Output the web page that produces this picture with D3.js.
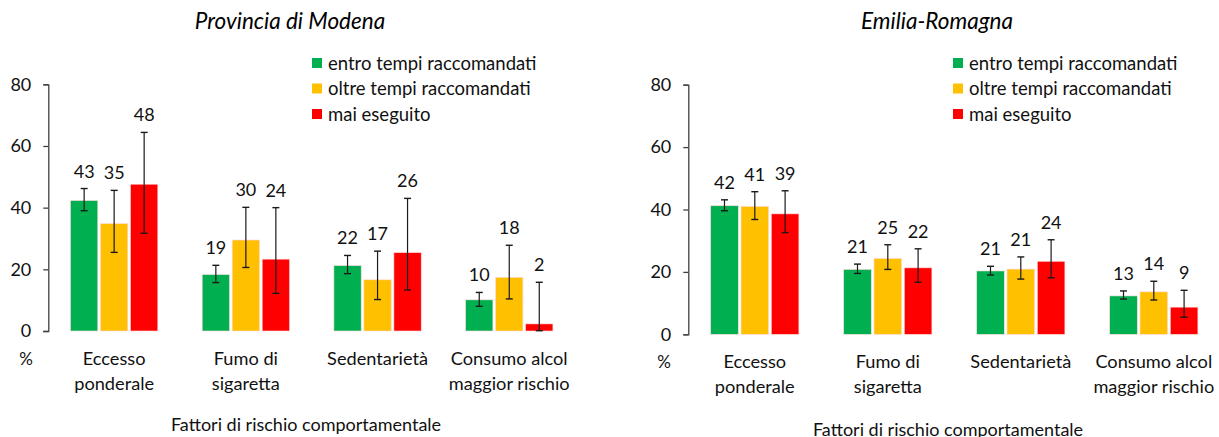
<!DOCTYPE html>
<html><head><meta charset="utf-8">
<script src="https://cdn.jsdelivr.net/npm/d3@7"></script>
<style>
body{margin:0;background:#fff;}
svg{display:block;font-family:Lato,"Open Sans",sans-serif;}
</style></head>
<body><svg id="c" width="1219" height="437"></svg>
<script>
const categories = ["Eccesso ponderale","Fumo di sigaretta","Sedentarietà","Consumo alcol maggior rischio"];
const categoryLines = [["Eccesso","ponderale"],["Fumo di","sigaretta"],["Sedentarietà"],["Consumo alcol","maggior rischio"]];
const seriesNames = ["entro tempi raccomandati","oltre tempi raccomandati","mai eseguito"];
const seriesColors = ["#00B050","#FFC000","#FF0000"];
const yTicks = [0,20,40,60,80];

// Provincia di Modena
const modenaEntro = [42.3,18.3,21.2,10.1];
const modenaOltre = [34.8,29.5,16.6,17.4];
const modenaMai   = [47.6,23.3,25.4,2.3];
const modenaEntroLow = [39.0,15.7,18.6,8.0],  modenaEntroHigh = [46.2,21.3,24.5,12.5];
const modenaOltreLow = [25.5,20.6,10.2,10.4], modenaOltreHigh = [45.6,40.1,25.9,27.8];
const modenaMaiLow   = [31.7,12.2,13.3,0.1],  modenaMaiHigh   = [64.4,40.0,43.0,15.8];
const modenaEntroLabels = [43,19,22,10];
const modenaOltreLabels = [35,30,17,18];
const modenaMaiLabels   = [48,24,26,2];

// Emilia-Romagna
const erEntro = [41.2,20.8,20.3,12.3];
const erOltre = [41.0,24.3,20.9,13.6];
const erMai   = [38.6,21.3,23.4,8.7];
const erEntroLow = [39.6,19.5,19.0,11.3], erEntroHigh = [43.1,22.5,21.8,13.9];
const erOltreLow = [36.8,20.8,17.7,11.0], erOltreHigh = [45.7,28.7,24.8,17.0];
const erMaiLow   = [32.6,16.7,18.1,5.5],  erMaiHigh   = [46.0,27.4,30.3,14.1];
const erEntroLabels = [42,21,21,13];
const erOltreLabels = [41,25,21,14];
const erMaiLabels   = [39,22,24,9];

const svg = d3.select("#c");
const TXT = "#111";

function panel(cfg){
  const g = svg.append("g");
  const series = [
    {v:cfg.entro, lo:cfg.entroLo, hi:cfg.entroHi, lab:cfg.entroLab},
    {v:cfg.oltre, lo:cfg.oltreLo, hi:cfg.oltreHi, lab:cfg.oltreLab},
    {v:cfg.mai,   lo:cfg.maiLo,   hi:cfg.maiHi,   lab:cfg.maiLab}
  ];
  const x0 = d3.scaleBand().domain(categories)
    .range([cfg.axisX, cfg.axisX + 4*cfg.step]).paddingInner(0.337).paddingOuter(0.1685);
  const x1 = d3.scaleBand().domain(d3.range(3)).range([0, x0.bandwidth()]).paddingInner(0.09).paddingOuter(0);
  const y = d3.scaleLinear().domain([0,80]).range([cfg.y0, cfg.y80]);

  const ax = g.append("g").attr("transform",`translate(${cfg.axisX},0)`)
    .call(d3.axisLeft(y).tickValues(yTicks).tickSize(5).tickPadding(12).tickFormat(d3.format("d")));
  ax.select(".domain").attr("stroke","#404040").attr("stroke-width",1.3);
  ax.selectAll(".tick line").attr("stroke","#404040").attr("stroke-width",1.3);
  ax.selectAll(".tick text").attr("font-size",18).attr("fill",TXT).attr("font-family","Lato");

  categories.forEach((c,ci)=>{
    series.forEach((s,si)=>{
      const bx = x0(c) + x1(si), bw = x1.bandwidth(), cx = bx + bw/2;
      g.append("rect").attr("x",bx).attr("y",y(s.v[ci])).attr("width",bw)
        .attr("height",y(0)-y(s.v[ci])).attr("fill",seriesColors[si])
        .attr("stroke","#ffd8d8").attr("stroke-width",0.6);
      g.append("line").attr("x1",cx).attr("x2",cx).attr("y1",y(s.lo[ci])).attr("y2",y(s.hi[ci]))
        .attr("stroke","#1a1a1a").attr("stroke-width",1.2);
      [s.lo[ci], s.hi[ci]].forEach(v=>{
        g.append("line").attr("x1",cx-3.5).attr("x2",cx+3.5).attr("y1",y(v)).attr("y2",y(v))
          .attr("stroke","#1a1a1a").attr("stroke-width",1.4);
      });
      g.append("text").attr("x",cx).attr("y",y(s.hi[ci])-11).attr("text-anchor","middle")
        .attr("font-size",18).attr("fill",TXT).text(s.lab[ci]);
    });
    categoryLines[ci].forEach((t,li)=>{
      g.append("text").attr("x",x0(c)+x0.bandwidth()/2).attr("y",cfg.catY + li*24.5)
        .attr("text-anchor","middle").attr("font-size",18.2).attr("fill",TXT).text(t);
    });
  });

  g.append("text").attr("x",cfg.pctX).attr("y",cfg.catY).attr("text-anchor","middle")
    .attr("font-size",17).attr("fill",TXT).text("%");

  g.append("text").attr("x",cfg.titleX).attr("y",29).attr("text-anchor","middle")
    .attr("font-size",22.5).attr("font-style","italic").attr("fill","#000").text(cfg.title);

  g.append("text").attr("x",cfg.xTitleX).attr("y",cfg.xTitleY).attr("text-anchor","middle")
    .attr("font-size",18).attr("fill",TXT).text("Fattori di rischio comportamentale");

  seriesNames.forEach((n,i)=>{
    const ly = 63 + i*25.5;
    g.append("rect").attr("x",cfg.legX).attr("y",ly-5).attr("width",10).attr("height",10).attr("fill",seriesColors[i]);
    g.append("text").attr("x",cfg.legX+16).attr("y",ly+6.5).attr("font-size",18.5).attr("fill",TXT).text(n);
  });
}

panel({title:"Provincia di Modena", titleX:290, axisX:48.3, step:131.7, y0:331, y80:84.3,
  entro:modenaEntro, oltre:modenaOltre, mai:modenaMai,
  entroLo:modenaEntroLow, entroHi:modenaEntroHigh, oltreLo:modenaOltreLow, oltreHi:modenaOltreHigh,
  maiLo:modenaMaiLow, maiHi:modenaMaiHigh,
  entroLab:modenaEntroLabels, oltreLab:modenaOltreLabels, maiLab:modenaMaiLabels,
  catY:365, pctX:26, xTitleX:306, xTitleY:431, legX:312});

panel({title:"Emilia-Romagna", titleX:937, axisX:688.3, step:133, y0:334.3, y80:84.7,
  entro:erEntro, oltre:erOltre, mai:erMai,
  entroLo:erEntroLow, entroHi:erEntroHigh, oltreLo:erOltreLow, oltreHi:erOltreHigh,
  maiLo:erMaiLow, maiHi:erMaiHigh,
  entroLab:erEntroLabels, oltreLab:erOltreLabels, maiLab:erMaiLabels,
  catY:368, pctX:664, xTitleX:948, xTitleY:436, legX:953});
</script></body></html>
